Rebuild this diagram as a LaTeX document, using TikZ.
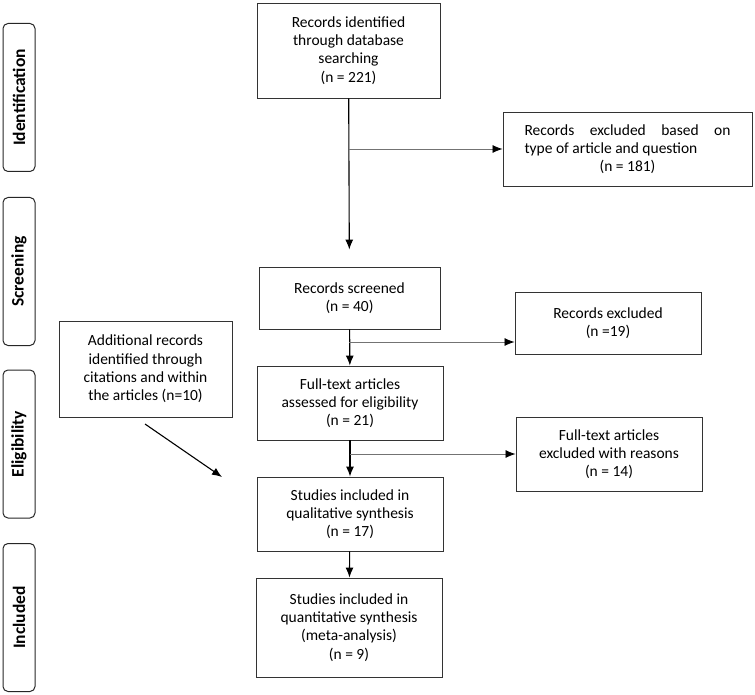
\documentclass[tikz,border=0pt]{standalone}
\usepackage{fontspec}
\setmainfont{Carlito}
\usetikzlibrary{arrows.meta}
\tikzstyle{box}=[draw=black!80,line width=0.9pt,align=center,inner sep=2pt,font=\fontsize{15.5}{18.3}\selectfont]
\tikzstyle{phase}=[draw=black!85,line width=1pt,rounded corners=5pt,minimum width=32pt,minimum height=148pt,inner sep=0pt]
\tikzstyle{phaselabel}=[rotate=90,font=\fontsize{17.5}{20}\selectfont\bfseries]
\tikzstyle{down}=[-{Latex[length=10pt,width=8pt]},line width=1.1pt]
\tikzstyle{side}=[-{Latex[length=10pt,width=8pt,color=black]},line width=0.8pt,draw=black!55]
\newcommand{\boxwidth}{186pt}
\newcommand{\phasex}{19}

\begin{document}
\begin{tikzpicture}[x=1pt,y=-1pt]
  \useasboundingbox (0,0) rectangle (755,695);

  % phases on the left
  \node[phase] (pident) at (\phasex,97.5)  {};
  \node[phase] (pscreen) at (\phasex,271.5) {};
  \node[phase] (pelig) at (\phasex,444)   {};
  \node[phase] (pincl) at (\phasex,617.5) {};
  \node[phaselabel] at (pident)  {Identification};
  \node[phaselabel] at (pscreen) {Screening};
  \node[phaselabel] at (pelig)   {Eligibility};
  \node[phaselabel] at (pincl)   {Included};

  % main column
  \node[box,minimum width=183pt,minimum height=95pt] (ident) at (348.5,50.5)
    {Records identified\\through database\\searching\\(n = 221)};
  \node[box,minimum width=181pt,minimum height=62pt] (screen) at (349.5,298)
    {Records screened\\(n = 40)};
  \node[box,minimum width=\boxwidth,minimum height=74pt] (full) at (350,403)
    {Full-text articles\\assessed for eligibility\\(n = 21)};
  \node[box,minimum width=\boxwidth,minimum height=74pt] (qual) at (350,514)
    {Studies included in\\qualitative synthesis\\(n = 17)};
  \node[box,minimum width=\boxwidth,minimum height=99pt] (quant) at (349,627.5)
    {Studies included in\\quantitative synthesis\\(meta-analysis)\\(n = 9)};

  % exclusions
  \node[box,minimum width=249pt,minimum height=74pt] (excla) at (627.5,149)
    {\makebox[206pt][s]{Records excluded based on}\\
     \makebox[206pt][l]{type of article and question}\\(n = 181)};
  \node[box,minimum width=\boxwidth,minimum height=62pt] (exclb) at (608,323)
    {Records excluded\\(n =19)};
  \node[box,minimum width=\boxwidth,minimum height=74pt] (exclc) at (609,454)
    {Full-text articles\\excluded with reasons\\(n = 14)};

  \node[box,minimum width=173pt,minimum height=96pt] (addl) at (145.5,369)
    {Additional records\\identified through\\citations and within\\the articles (n=10)};

  \coordinate (splitb) at (349,342);
  \coordinate (diagfrom) at (145,424);
  \coordinate (diagto) at (222,477);

  \draw[down,shorten >=17pt] (ident) -- (screen);
  \draw[down] (screen) -- (full);
  \draw[down] (full) -- (qual);
  \draw[down] (qual) -- (quant);

  \draw[side] (ident.south |- excla.west) -- (excla.west);
  \draw[side] (splitb) -- (splitb -| exclb.west);
  \draw[side] (full.south |- exclc.west) -- (exclc.west);

  \draw[down] (diagfrom) -- (diagto);
\end{tikzpicture}
\end{document}
